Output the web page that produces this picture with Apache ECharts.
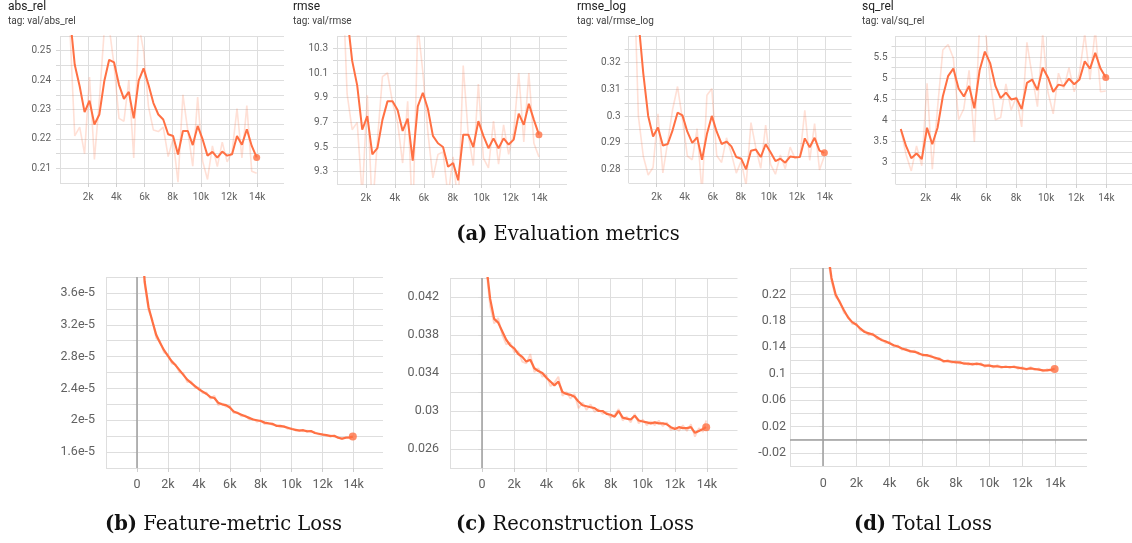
<!DOCTYPE html>
<html><head><meta charset="utf-8">
<script src="https://cdn.jsdelivr.net/npm/echarts@6/dist/echarts.min.js"></script>
<style>html,body{margin:0;padding:0;background:#fff;}#c{width:1132px;height:543px;}</style>
</head><body><div id="c"></div>
<script>
// ---- evaluation metrics (top row) ----
const evalSteps = [349, 698, 1047, 1396, 1745, 2094, 2443, 2792, 3141, 3490, 3839, 4188, 4537, 4886, 5235, 5584, 5933, 6282, 6631, 6980, 7329, 7678, 8027, 8376, 8725, 9074, 9423, 9772, 10121, 10470, 10819, 11168, 11517, 11866, 12215, 12564, 12913, 13262, 13611, 13960];

const absRelSmooth = [0.265, 0.262, 0.2452, 0.2379, 0.2291, 0.2330, 0.2249, 0.2283, 0.2396, 0.2469, 0.2460, 0.2384, 0.2336, 0.2360, 0.2270, 0.2398, 0.2440, 0.2384, 0.2322, 0.2283, 0.2266, 0.2216, 0.2210, 0.2147, 0.2227, 0.2227, 0.2179, 0.2244, 0.2199, 0.2143, 0.2156, 0.2136, 0.2157, 0.2143, 0.2148, 0.2210, 0.2180, 0.2233, 0.2176, 0.2137];
const absRelRaw = [0.265, 0.258, 0.221, 0.224, 0.215, 0.241, 0.213, 0.233, 0.257, 0.258, 0.245, 0.227, 0.226, 0.240, 0.2135, 0.259, 0.250, 0.231, 0.223, 0.2225, 0.224, 0.214, 0.220, 0.2053, 0.235, 0.2227, 0.2107, 0.2342, 0.2125, 0.2062, 0.2176, 0.2106, 0.2189, 0.2122, 0.2156, 0.2303, 0.2135, 0.2313, 0.209, 0.2083];

const rmseSmooth = [11.0, 10.57, 10.20, 10.00, 9.64, 9.75, 9.44, 9.49, 9.72, 9.87, 9.87, 9.80, 9.63, 9.73, 9.39, 9.83, 9.94, 9.81, 9.59, 9.53, 9.50, 9.34, 9.37, 9.23, 9.60, 9.60, 9.50, 9.71, 9.59, 9.49, 9.57, 9.49, 9.57, 9.52, 9.56, 9.77, 9.68, 9.85, 9.72, 9.60];
const rmseRaw = [11.0, 9.93, 9.64, 9.70, 9.10, 9.92, 8.97, 9.55, 10.07, 10.10, 9.86, 9.70, 9.37, 9.87, 8.88, 10.49, 10.11, 9.62, 9.25, 9.44, 9.46, 9.10, 9.42, 9.01, 10.16, 9.60, 9.35, 10.01, 9.41, 9.33, 9.71, 9.36, 9.68, 9.44, 9.62, 10.10, 9.54, 10.10, 9.53, 9.42];

const rmseLogSmooth = [0.36, 0.336, 0.316, 0.3001, 0.2924, 0.2958, 0.2890, 0.2896, 0.2948, 0.3013, 0.3003, 0.2942, 0.2900, 0.2921, 0.2837, 0.2933, 0.3001, 0.2942, 0.2896, 0.2905, 0.2887, 0.2847, 0.2841, 0.2801, 0.2871, 0.2875, 0.2847, 0.2895, 0.2865, 0.2832, 0.2841, 0.2826, 0.2849, 0.2846, 0.2847, 0.2917, 0.2884, 0.2919, 0.2871, 0.2863];
const rmseLogRaw = [0.36, 0.30, 0.285, 0.278, 0.2808, 0.3009, 0.2788, 0.2905, 0.3026, 0.3111, 0.2988, 0.2851, 0.2837, 0.2953, 0.2711, 0.3078, 0.3103, 0.2853, 0.2827, 0.2919, 0.2860, 0.2787, 0.2832, 0.2741, 0.2976, 0.2881, 0.2805, 0.2967, 0.2820, 0.2783, 0.2855, 0.2803, 0.2884, 0.2842, 0.2848, 0.3022, 0.2835, 0.2972, 0.2799, 0.2851];

const sqRelSmooth = [3.80, 3.40, 3.11, 3.22, 3.09, 3.83, 3.44, 3.83, 4.57, 5.05, 5.23, 4.76, 4.57, 4.82, 4.29, 5.19, 5.63, 5.36, 4.82, 4.53, 4.66, 4.50, 4.53, 4.27, 4.89, 4.97, 4.72, 5.25, 5.02, 4.68, 4.85, 4.82, 4.99, 4.86, 4.97, 5.40, 5.23, 5.60, 5.23, 5.02];
const sqRelRaw = [3.80, 3.20, 2.81, 3.40, 2.93, 4.88, 2.85, 4.30, 5.67, 5.80, 5.48, 4.02, 4.28, 5.19, 3.50, 6.30, 6.30, 4.95, 4.02, 4.07, 4.87, 4.25, 4.56, 3.85, 5.85, 5.05, 4.33, 6.05, 4.67, 4.16, 5.12, 4.76, 5.25, 4.68, 5.13, 6.05, 4.97, 6.16, 4.68, 4.70];

// ---- training losses (bottom row) ----
const lossSteps = [100, 250, 500, 750, 1000, 1250, 1500, 1750, 2000, 2250, 2500, 2750, 3000, 3250, 3500, 3750, 4000, 4250, 4500, 4750, 5000, 5250, 5500, 5750, 6000, 6250, 6500, 6750, 7000, 7250, 7500, 7750, 8000, 8250, 8500, 8750, 9000, 9250, 9500, 9750, 10000, 10250, 10500, 10750, 11000, 11250, 11500, 11750, 12000, 12250, 12500, 12750, 13000, 13250, 13500, 13750, 13950];

const featSmooth = [5.2e-5, 4.5e-5, 3.74e-5, 3.42e-5, 3.24e-5, 3.07e-5, 2.97e-5, 2.88e-5, 2.81e-5, 2.74e-5, 2.69e-5, 2.63e-5, 2.57e-5, 2.51e-5, 2.47e-5, 2.43e-5, 2.39e-5, 2.36e-5, 2.33e-5, 2.29e-5, 2.28e-5, 2.22e-5, 2.20e-5, 2.19e-5, 2.16e-5, 2.11e-5, 2.09e-5, 2.07e-5, 2.05e-5, 2.03e-5, 2.01e-5, 2.00e-5, 1.99e-5, 1.97e-5, 1.96e-5, 1.955e-5, 1.93e-5, 1.93e-5, 1.92e-5, 1.905e-5, 1.89e-5, 1.88e-5, 1.87e-5, 1.875e-5, 1.86e-5, 1.865e-5, 1.84e-5, 1.83e-5, 1.82e-5, 1.815e-5, 1.80e-5, 1.805e-5, 1.78e-5, 1.77e-5, 1.78e-5, 1.785e-5, 1.795e-5];
const featRaw = [5.3e-5, 4.4e-5, 3.70e-5, 3.38e-5, 3.26e-5, 3.03e-5, 2.99e-5, 2.85e-5, 2.83e-5, 2.71e-5, 2.70e-5, 2.60e-5, 2.59e-5, 2.48e-5, 2.49e-5, 2.41e-5, 2.41e-5, 2.34e-5, 2.35e-5, 2.27e-5, 2.31e-5, 2.19e-5, 2.21e-5, 2.17e-5, 2.18e-5, 2.09e-5, 2.10e-5, 2.05e-5, 2.06e-5, 2.01e-5, 2.02e-5, 1.98e-5, 2.00e-5, 1.95e-5, 1.97e-5, 1.94e-5, 1.94e-5, 1.91e-5, 1.93e-5, 1.89e-5, 1.90e-5, 1.87e-5, 1.88e-5, 1.86e-5, 1.87e-5, 1.85e-5, 1.85e-5, 1.82e-5, 1.83e-5, 1.80e-5, 1.81e-5, 1.79e-5, 1.79e-5, 1.76e-5, 1.79e-5, 1.77e-5, 1.80e-5];

const reconSmooth = [0.050, 0.0455, 0.0418, 0.0397, 0.0393, 0.0384, 0.0375, 0.0369, 0.0366, 0.0360, 0.0357, 0.0352, 0.0354, 0.0345, 0.0342, 0.0340, 0.0335, 0.0331, 0.0327, 0.0331, 0.0320, 0.0318, 0.0317, 0.0315, 0.0310, 0.0306, 0.0305, 0.0304, 0.0303, 0.0300, 0.0300, 0.0297, 0.0296, 0.0294, 0.0300, 0.0293, 0.0292, 0.0291, 0.0295, 0.0290, 0.0289, 0.0288, 0.0287, 0.0288, 0.0287, 0.0287, 0.0286, 0.0283, 0.0281, 0.0283, 0.0282, 0.0282, 0.0283, 0.0277, 0.0279, 0.0281, 0.0283];
const reconRaw = [0.051, 0.045, 0.0410, 0.0392, 0.0398, 0.0380, 0.0370, 0.0372, 0.0362, 0.0363, 0.0352, 0.0350, 0.0360, 0.0341, 0.0345, 0.0336, 0.0338, 0.0326, 0.0330, 0.0336, 0.0316, 0.0320, 0.0313, 0.0318, 0.0303, 0.0309, 0.0301, 0.0307, 0.0299, 0.0302, 0.0297, 0.0299, 0.0293, 0.0296, 0.0302, 0.0290, 0.0294, 0.0288, 0.0297, 0.0287, 0.0291, 0.0285, 0.0289, 0.0285, 0.0290, 0.0284, 0.0288, 0.0280, 0.0283, 0.0279, 0.0285, 0.0279, 0.0286, 0.0273, 0.0282, 0.0278, 0.0290];

const totalSmooth = [0.33, 0.29, 0.245, 0.220, 0.208, 0.196, 0.185, 0.178, 0.174, 0.168, 0.163, 0.161, 0.159, 0.155, 0.151, 0.149, 0.146, 0.143, 0.141, 0.138, 0.136, 0.134, 0.133, 0.131, 0.128, 0.128, 0.126, 0.124, 0.122, 0.119, 0.119, 0.118, 0.117, 0.117, 0.115, 0.115, 0.114, 0.115, 0.114, 0.112, 0.112, 0.111, 0.111, 0.110, 0.110, 0.110, 0.110, 0.109, 0.108, 0.107, 0.108, 0.107, 0.106, 0.105, 0.105, 0.106, 0.107];
const totalRaw = [0.34, 0.28, 0.240, 0.216, 0.210, 0.192, 0.187, 0.175, 0.176, 0.165, 0.165, 0.158, 0.161, 0.152, 0.153, 0.146, 0.148, 0.141, 0.143, 0.136, 0.138, 0.132, 0.135, 0.129, 0.130, 0.126, 0.128, 0.122, 0.124, 0.117, 0.121, 0.116, 0.119, 0.115, 0.117, 0.113, 0.116, 0.113, 0.116, 0.110, 0.114, 0.109, 0.113, 0.108, 0.112, 0.108, 0.112, 0.107, 0.110, 0.105, 0.110, 0.105, 0.108, 0.103, 0.107, 0.104, 0.109];

// ---- texts ----
const topTitles = ['abs_rel', 'rmse', 'rmse_log', 'sq_rel'];
const topTags = ['tag: val/abs_rel', 'tag: val/rmse', 'tag: val/rmse_log', 'tag: val/sq_rel'];
const captionTags = ['(a)', '(b)', '(c)', '(d)'];
const captionTexts = ['Evaluation metrics', 'Feature-metric Loss', 'Reconstruction Loss', 'Total Loss'];

// ---- layout / styling ----
const ORANGE = '#ff7043';
const GRID_C = '#dedede';
const LABEL_C = '#616161';
const fmt2 = v => String(+v.toFixed(2));

const panels = [
  {steps: evalSteps, raw: absRelRaw, smooth: absRelSmooth, tx: 8,
   grid: {left: 60, top: 36, width: 224, height: 147}, xMin: 0, xMax: 15900,
   yMin: 0.205, yMax: 0.255, yInt: 0.005,
   yShow: v => Math.round(v * 1000) % 10 === 0, yFmt: fmt2,
   font: 10, yMargin: 9, xMargin: 9, lw: 2, dot: 7, rawOp: 0.22},
  {steps: evalSteps, raw: rmseRaw, smooth: rmseSmooth, tx: 293,
   grid: {left: 337, top: 36, width: 230, height: 148}, xMin: 0, xMax: 15900,
   yMin: 9.2, yMax: 10.4, yInt: 0.1,
   yShow: v => Math.round(v * 10) % 2 === 1, yFmt: v => v.toFixed(1),
   font: 10, yMargin: 9, xMargin: 9, lw: 2, dot: 7, rawOp: 0.22},
  {steps: evalSteps, raw: rmseLogRaw, smooth: rmseLogSmooth, tx: 577,
   grid: {left: 628.6, top: 36, width: 223, height: 147}, xMin: 0, xMax: 15900,
   yMin: 0.275, yMax: 0.33, yInt: 0.005,
   yShow: v => Math.round(v * 1000) % 10 === 0, yFmt: fmt2,
   font: 10, yMargin: 8, xMargin: 9, lw: 2, dot: 7, rawOp: 0.22},
  {steps: evalSteps, raw: sqRelRaw, smooth: sqRelSmooth, tx: 862,
   grid: {left: 895.5, top: 36, width: 237, height: 148}, xMin: 0, xMax: 15700,
   yMin: 2.5, yMax: 6, yInt: 0.25,
   yShow: v => Math.round(v * 100) % 50 === 0, yFmt: fmt2,
   font: 10, yMargin: 8, xMargin: 9, lw: 2, dot: 7, rawOp: 0.22},
  {steps: lossSteps, raw: featRaw, smooth: featSmooth,
   grid: {left: 106, top: 277, width: 277, height: 191}, xMin: -2000, xMax: 15900,
   yMin: 1.4e-5, yMax: 3.8e-5, yInt: 0.2e-5,
   yShow: v => Math.round(v * 1e6) % 4 === 0, yFmt: v => (Math.round(v * 1e6) / 10) + 'e-5',
   font: 12.5, yMargin: 11, xMargin: 10, lw: 2.2, dot: 8, rawOp: 0.28, zeroX: true},
  {steps: lossSteps, raw: reconRaw, smooth: reconSmooth,
   grid: {left: 450, top: 278, width: 287.5, height: 190}, xMin: -2000, xMax: 15900,
   yMin: 0.024, yMax: 0.044, yInt: 0.002,
   yShow: v => Math.round(v * 1000) % 4 === 2, yFmt: v => String(+v.toFixed(3)),
   font: 12.5, yMargin: 11, xMargin: 10, lw: 2.2, dot: 8, rawOp: 0.28, zeroX: true},
  {steps: lossSteps, raw: totalRaw, smooth: totalSmooth,
   grid: {left: 790, top: 268, width: 297, height: 198}, xMin: -2000, xMax: 15900,
   yMin: -0.04, yMax: 0.26, yInt: 0.02,
   yShow: v => Math.abs(Math.round(v * 100)) % 4 === 2, yFmt: fmt2,
   font: 12.5, yMargin: 4, xMargin: 11, lw: 2.2, dot: 8, rawOp: 0.28, zeroX: true, zeroY: true}
];

function pts(xs, ys) { return xs.map((x, i) => [x, ys[i]]); }

const grids = [], xAxes = [], yAxes = [], series = [];
panels.forEach((p, k) => {
  grids.push(Object.assign({containLabel: false}, p.grid));
  xAxes.push({
    type: 'value', gridIndex: k, min: p.xMin, max: p.xMax, interval: 2000,
    axisLine: {show: false},
    axisTick: {show: true, length: 4, lineStyle: {color: '#cfcfcf'}},
    splitLine: {show: true, showMaxLine: false, lineStyle: {color: GRID_C, width: 1}},
    axisLabel: {showMinLabel: false, showMaxLabel: false, color: LABEL_C, fontSize: p.font,
      fontFamily: 'Roboto', margin: p.xMargin,
      formatter: v => v === 0 ? '0' : (Math.round(v / 1000) + 'k')}
  });
  yAxes.push({
    type: 'value', gridIndex: k, min: p.yMin, max: p.yMax, interval: p.yInt,
    axisLine: {show: false},
    axisTick: {show: true, length: 4, lineStyle: {color: '#d8d8d8'}},
    splitLine: {show: true, lineStyle: {color: GRID_C, width: 1}},
    axisLabel: {showMinLabel: false, showMaxLabel: false, color: LABEL_C, fontSize: p.font,
      fontFamily: 'Roboto', margin: p.yMargin,
      formatter: v => p.yShow(v) ? p.yFmt(v) : ''}
  });
  const zeroData = [];
  if (p.zeroX) zeroData.push({xAxis: 0});
  if (p.zeroY) zeroData.push({yAxis: 0});
  series.push({
    type: 'line', xAxisIndex: k, yAxisIndex: k, data: pts(p.steps, p.raw),
    symbol: 'none', silent: true, animation: false, z: 2,
    lineStyle: {color: ORANGE, width: p.lw * 0.8, opacity: p.rawOp},
    markLine: zeroData.length ? {silent: true, symbol: ['none', 'none'], animation: false,
      label: {show: false}, lineStyle: {color: '#9e9e9e', width: 1.5, type: 'solid'},
      data: zeroData} : undefined
  });
  series.push({
    type: 'line', xAxisIndex: k, yAxisIndex: k, data: pts(p.steps, p.smooth),
    symbol: 'none', silent: true, animation: false, z: 3,
    lineStyle: {color: ORANGE, width: p.lw}
  });
  const last = p.steps.length - 1;
  series.push({
    type: 'scatter', xAxisIndex: k, yAxisIndex: k,
    data: [[p.steps[last], p.smooth[last]]],
    symbolSize: p.dot, itemStyle: {color: ORANGE}, silent: true, animation: false, z: 4
  });
});

const graphics = [];
topTitles.forEach((t, i) => {
  const x = panels[i].tx;
  graphics.push({type: 'text', x: x, y: 7, silent: true,
    style: {text: t, fill: '#212121', fontSize: 12, fontFamily: 'Roboto', verticalAlign: 'middle', align: 'left'}});
  graphics.push({type: 'text', x: x, y: 21, silent: true,
    style: {text: topTags[i], fill: '#424242', fontSize: 10, fontFamily: 'Roboto', verticalAlign: 'middle', align: 'left'}});
});
const capPos = [[568, 235], [223.5, 525], [575, 525], [923, 525]];
captionTexts.forEach((t, i) => {
  graphics.push({type: 'text', x: capPos[i][0], y: capPos[i][1], silent: true,
    style: {text: '{b|' + captionTags[i] + '} ' + t, fill: '#111', fontSize: 19.5,
      fontFamily: 'DejaVu Serif', align: 'center', verticalAlign: 'middle',
      rich: {b: {fontWeight: 'bold', fontSize: 19.5, fontFamily: 'DejaVu Serif', fill: '#111'}}}});
});

const chart = echarts.init(document.getElementById('c'), null, {renderer: 'canvas'});
chart.setOption({
  animation: false,
  backgroundColor: '#fff',
  grid: grids, xAxis: xAxes, yAxis: yAxes, series: series, graphic: graphics
});
</script></body></html>
